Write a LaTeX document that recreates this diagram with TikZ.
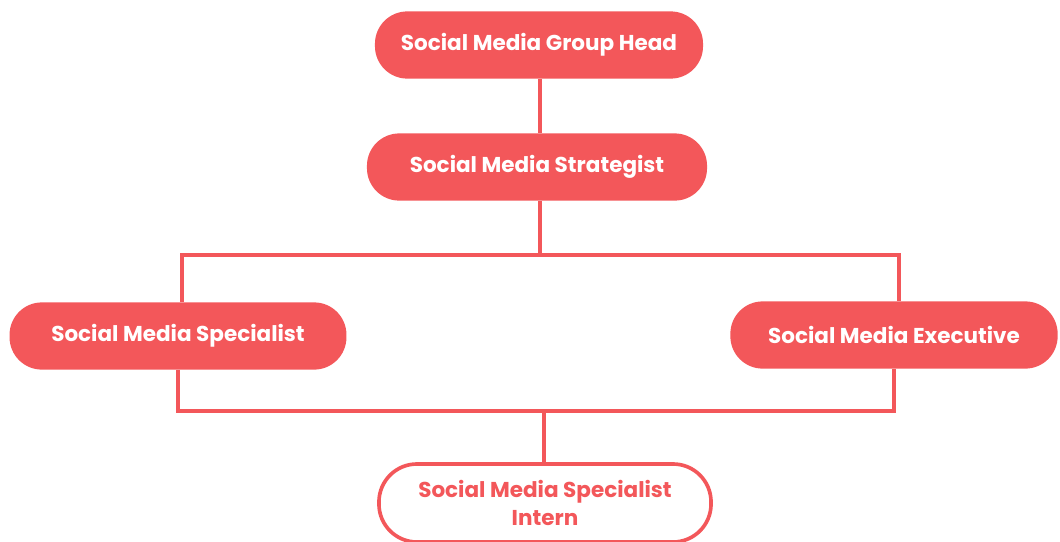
\documentclass[tikz,border=0pt]{standalone}
\usepackage{fontspec}
\setmainfont{Poppins}
\usetikzlibrary{positioning}
\definecolor{smred}{RGB}{243,87,90}
\tikzset{
	role/.style   = {shape=rectangle, rounded corners=23pt,
		fill=smred, text=white, align=center, inner sep=0pt,
		font=\fontsize{15.3}{20.5}\selectfont\bfseries,
		minimum height=1.68cm},
	intern/.style = {role, fill=white, draw=smred, line width=2.6pt,
		text=smred, rounded corners=27pt, minimum height=1.95cm},
	link/.style   = {draw=smred, line width=2.8pt},
}
\begin{document}
\begin{tikzpicture}
[
x = 0.025cm,
y = -0.025cm
]
\useasboundingbox (0,0) rectangle (1060,541);

\node [role, minimum width=8.2cm] (head) at (539,45) {Social Media Group Head};
\node [role, minimum width=8.5cm] (strat) at (537,167) {Social Media Strategist};
\node [role, minimum width=8.42cm] (spec) at (178,336) {Social Media Specialist};
\node [role, minimum width=8.18cm] (exec) at (894,335) {Social Media Executive};
\node [intern, minimum width=8.3cm] (int) at (545,503) {Social Media Specialist\\Intern};

\coordinate (jtop) at (540,255);
\coordinate (jbot) at (544,411);

\draw [link] (head.south -| jtop) -- (strat.north -| jtop);
\draw [link] (strat.south -| jtop) -- (jtop);
\draw [link] ([xshift=4*0.025cm]spec.north) |- (jtop) -| ([xshift=5*0.025cm]exec.north);
\draw [link] (spec.south) |- (jbot) -| (exec.south);
\draw [link] (jbot) -- (jbot |- int.north);
\end{tikzpicture}
\end{document}
